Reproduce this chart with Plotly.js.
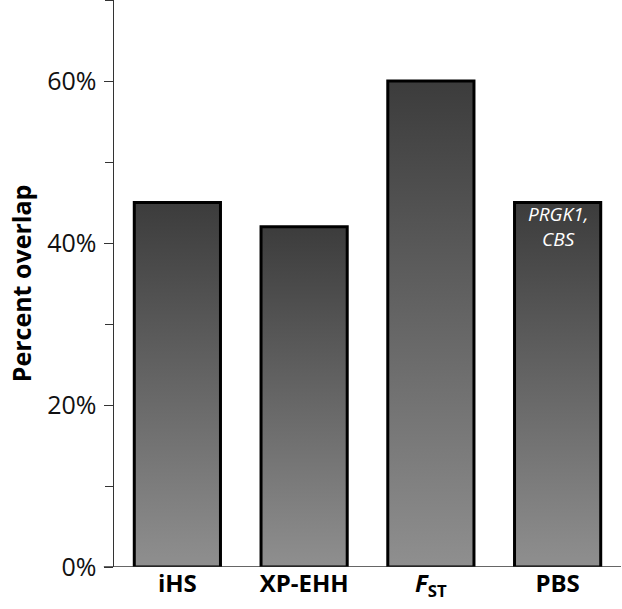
<!DOCTYPE html>
<html>
<head>
<meta charset="utf-8">
<script src="https://cdn.plot.ly/plotly-3.0.1.min.js"></script>
<style>html,body{margin:0;padding:0;background:#fff}#chart{width:622px;height:609px}</style>
</head>
<body>
<div id="chart"></div>
<script>
const categories = ['iHS', 'XP-EHH', 'FST', 'PBS'];
const tickLabels = ['<b>iHS</b>', '<b>XP-EHH</b>', '<b><i>F</i><sub>ST</sub></b>', '<b>PBS</b>'];
const overlap = [45, 42, 60, 45];
const yTickVals = [0, 20, 40, 60];
const yTickText = ['0%', '20%', '40%', '60%'];
const noteCategory = 'PBS';
const noteValue = 42;
const noteText = '<i>PRGK1,</i><br><i>CBS</i>';

const trace = {
  type: 'bar',
  x: categories,
  y: overlap,
  marker: { color: '#666666', line: { color: '#000000', width: 3 } },
  hoverinfo: 'none'
};

const layout = {
  width: 622, height: 609,
  margin: { l: 114, r: 1, t: 0, b: 42 },
  paper_bgcolor: '#ffffff', plot_bgcolor: '#ffffff',
  showlegend: false,
  bargap: 0.32,
  font: { family: 'Open Sans, sans-serif', color: '#000000' },
  xaxis: {
    type: 'category',
    tickvals: categories, ticktext: tickLabels,
    showgrid: false, zeroline: false, showline: false,
    ticks: '', tickfont: { size: 24, color: '#000' },
    range: [-0.5, 3.5], fixedrange: true
  },
  yaxis: {
    range: [0, 70],
    tickvals: yTickVals, ticktext: yTickText,
    tickfont: { size: 25, color: '#111' },
    ticks: 'outside', ticklen: 9, tickwidth: 1, tickcolor: '#333',
    ticklabelstandoff: 2,
    minor: { dtick: 10, ticks: 'outside', ticklen: 8, tickcolor: '#333', tickwidth: 1 },
    showline: true, linecolor: '#333', linewidth: 1.5,
    showgrid: false, zeroline: false,
    title: { text: '<b>Percent overlap</b>', font: { size: 25, color: '#000' }, standoff: 8 },
    fixedrange: true
  },
  shapes: [{
    type: 'line', xref: 'paper', yref: 'y',
    x0: -0.02, x1: 1, y0: 0, y1: 0,
    line: { color: '#333', width: 1.5 }
  }],
  annotations: [{
    x: noteCategory, y: noteValue, xref: 'x', yref: 'y',
    text: noteText, showarrow: false,
    font: { size: 19, color: '#ffffff', family: 'Open Sans, sans-serif' },
    align: 'center'
  }]
};

Plotly.newPlot('chart', [trace], layout, { displayModeBar: false, staticPlot: true }).then(function (gd) {
  const svg = gd.querySelector('svg.main-svg');
  const ns = 'http://www.w3.org/2000/svg';
  let defs = svg.querySelector('defs');
  if (!defs) { defs = document.createElementNS(ns, 'defs'); svg.insertBefore(defs, svg.firstChild); }
  const grad = document.createElementNS(ns, 'linearGradient');
  grad.setAttribute('id', 'barGrad');
  grad.setAttribute('x1', '0'); grad.setAttribute('y1', '0');
  grad.setAttribute('x2', '0'); grad.setAttribute('y2', '1');
  [['0', '#3c3c3c'], ['1', '#8f8f8f']].forEach(function (s) {
    const st = document.createElementNS(ns, 'stop');
    st.setAttribute('offset', s[0]);
    st.setAttribute('stop-color', s[1]);
    grad.appendChild(st);
  });
  defs.appendChild(grad);
  gd.querySelectorAll('.bars .point path').forEach(function (p) {
    p.style.fill = 'url(#barGrad)';
  });
});
</script>
</body>
</html>
